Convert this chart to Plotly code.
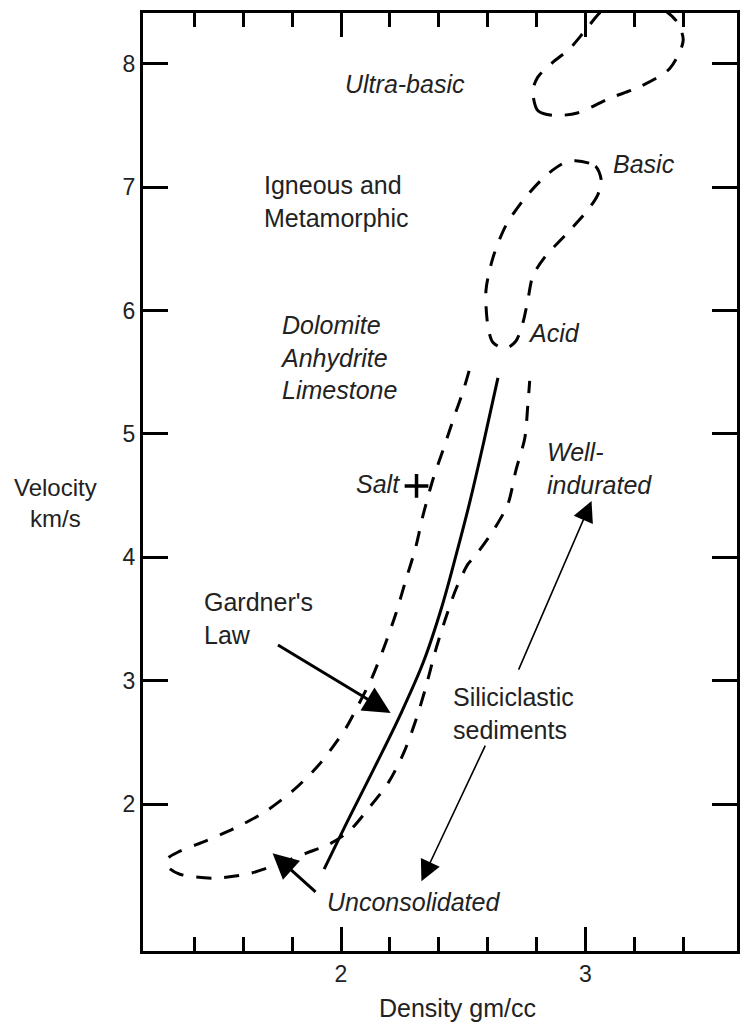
import plotly.graph_objects as go

# Ultra-basic field (closed, runs off the top of the frame)
ultrabasic_density = [2.785, 2.805, 2.866, 2.967, 3.10, 3.22, 3.345, 3.40, 3.37, 3.29, 3.17,
                      3.07, 3.0, 2.935, 2.866, 2.805, 2.785]
ultrabasic_velocity = [7.78, 7.62, 7.58, 7.60, 7.72, 7.81, 7.96, 8.19, 8.35, 8.47, 8.49,
                       8.43, 8.27, 8.12, 8.01, 7.89, 7.78]

# Basic / acid igneous field (closed loop)
igneous_density = [2.959, 3.041, 3.065, 3.049, 3.008, 2.927, 2.833, 2.785, 2.764, 2.744,
                   2.715, 2.671, 2.622, 2.602, 2.593, 2.622, 2.675, 2.752, 2.837, 2.907, 2.959]
igneous_velocity = [7.213, 7.17, 7.05, 6.93, 6.81, 6.63, 6.43, 6.28, 6.08, 5.90,
                    5.75, 5.69, 5.74, 5.86, 6.16, 6.43, 6.69, 6.91, 7.09, 7.19, 7.213]

# Sedimentary envelope (open at the top)
sediment_density = [2.524, 2.500, 2.467, 2.419, 2.378, 2.337, 2.305, 2.264, 2.224, 2.175,
                    2.126, 2.073, 2.020, 1.963, 1.898, 1.801, 1.687, 1.557, 1.435, 1.341,
                    1.289, 1.293, 1.341, 1.476, 1.614, 1.720, 1.858, 1.951, 2.033, 2.114,
                    2.195, 2.256, 2.305, 2.346, 2.386, 2.427, 2.472, 2.520, 2.549, 2.622,
                    2.683, 2.715, 2.752, 2.764, 2.772]
sediment_velocity = [5.511, 5.349, 5.162, 4.878, 4.643, 4.351, 4.076, 3.808, 3.540, 3.265,
                     3.021, 2.811, 2.616, 2.454, 2.292, 2.105, 1.935, 1.797, 1.692, 1.619,
                     1.554, 1.489, 1.432, 1.400, 1.432, 1.497, 1.603, 1.675, 1.781, 1.968,
                     2.178, 2.413, 2.673, 2.940, 3.240, 3.500, 3.751, 3.946, 4.011, 4.213,
                     4.432, 4.700, 4.967, 5.227, 5.430]

# Gardner's law trend
gardner_density = [1.931, 2.037, 2.142, 2.244, 2.337, 2.411, 2.472, 2.528, 2.585, 2.642]
gardner_velocity = [1.473, 1.903, 2.316, 2.730, 3.151, 3.589, 4.027, 4.457, 4.943, 5.454]

# Salt
salt_density = [2.309]
salt_velocity = [4.578]

# Axis ticks
x_major_ticks = [2, 3]
x_minor_ticks = [1.4, 1.6, 1.8, 2.2, 2.4, 2.6, 2.8, 3.2, 3.4]
y_ticks = [2, 3, 4, 5, 6, 7, 8]

# Text labels: (text, density, velocity, xanchor, italic)
labels = [
    ("Ultra-basic", 2.260, 7.838, "center", True),
    ("Igneous and<br>Metamorphic", 1.675, 6.881, "left", False),
    ("Dolomite<br>Anhydrite<br>Limestone", 1.744, 5.616, "left", True),
    ("Salt", 2.248, 4.595, "right", True),
    ("Basic", 3.240, 7.189, "center", True),
    ("Acid", 2.870, 5.819, "center", True),
    ("Well-<br>indurated", 2.833, 4.716, "left", True),
    ("Gardner's<br>Law", 1.431, 3.508, "left", False),
    ("Siliciclastic<br>sediments", 2.451, 2.738, "left", False),
    ("Unconsolidated", 2.297, 1.205, "center", True),
]

# Arrows: (tail density, tail velocity, head density, head velocity, width, size)
arrows = [
    (1.736, 3.297, 2.203, 2.738, 3.0, 1.8),
    (1.902, 1.278, 1.720, 1.603, 3.0, 1.7),
    (2.724, 3.078, 3.025, 4.457, 1.6, 2.6),
    (2.593, 2.486, 2.329, 1.376, 1.6, 2.6),
]

FONT = "Liberation Sans, Arial, Helvetica, sans-serif"
INK = "#222222"
DASH = "15px,13px"

fig = go.Figure()

for xs, ys in [(ultrabasic_density, ultrabasic_velocity),
               (igneous_density, igneous_velocity),
               (sediment_density, sediment_velocity)]:
    fig.add_trace(go.Scatter(
        x=xs, y=ys, mode="lines",
        line=dict(color="black", width=3, dash=DASH, shape="spline", smoothing=0.8),
        hoverinfo="skip", showlegend=False,
    ))

fig.add_trace(go.Scatter(
    x=gardner_density, y=gardner_velocity, mode="lines",
    line=dict(color="black", width=3, shape="spline", smoothing=1.0),
    hoverinfo="skip", showlegend=False,
))

fig.add_trace(go.Scatter(
    x=salt_density, y=salt_velocity, mode="markers",
    marker=dict(symbol="cross-thin", size=17, line=dict(color="black", width=3.5)),
    hoverinfo="skip", showlegend=False,
))

for text, x, y, xa, italic in labels:
    fig.add_annotation(
        x=x, y=y, xref="x", yref="y", text=text, showarrow=False,
        xanchor=xa, yanchor="middle", align="left",
        font=dict(family=FONT, size=25, color=INK, style="italic" if italic else "normal"),
    )

for x0, y0, x1, y1, w, s in arrows:
    fig.add_annotation(
        x=x1, y=y1, ax=x0, ay=y0, xref="x", yref="y", axref="x", ayref="y",
        text="", showarrow=True, arrowhead=2, arrowwidth=w, arrowsize=s,
        arrowcolor="black", standoff=0,
    )

# Axis titles
fig.add_annotation(x=0.529, y=-0.061, xref="paper", yref="paper",
                   text="Density gm/cc", showarrow=False, xanchor="center", yanchor="middle",
                   font=dict(family=FONT, size=25, color=INK))
fig.add_annotation(x=-0.147, y=0.478, xref="paper", yref="paper",
                   text="Velocity<br>km/s", showarrow=False, xanchor="center", yanchor="middle",
                   font=dict(family=FONT, size=24, color=INK))

fig.update_xaxes(
    range=[1.19, 3.62], showline=True, linecolor="black", linewidth=3, mirror="ticks",
    ticks="inside", tickvals=x_major_ticks, ticktext=[str(v) for v in x_major_ticks],
    ticklen=24, tickwidth=2.5, tickcolor="black",
    minor=dict(tickvals=x_minor_ticks, ticks="inside", ticklen=14, tickwidth=2.5,
               tickcolor="black", showgrid=False),
    showgrid=False, zeroline=False,
    tickfont=dict(family=FONT, size=23, color=INK),
)
fig.update_yaxes(
    range=[0.81, 8.41], showline=True, linecolor="black", linewidth=3, mirror="ticks",
    ticks="inside", tickvals=y_ticks, ticktext=[str(v) for v in y_ticks],
    ticklen=25, tickwidth=2.5, tickcolor="black",
    showgrid=False, zeroline=False,
    tickfont=dict(family=FONT, size=23, color=INK),
)

fig.update_layout(
    width=741, height=1026,
    margin=dict(l=143, r=1, t=13, b=75),
    paper_bgcolor="white", plot_bgcolor="white",
    showlegend=False,
)

fig.write_html("out.html")
